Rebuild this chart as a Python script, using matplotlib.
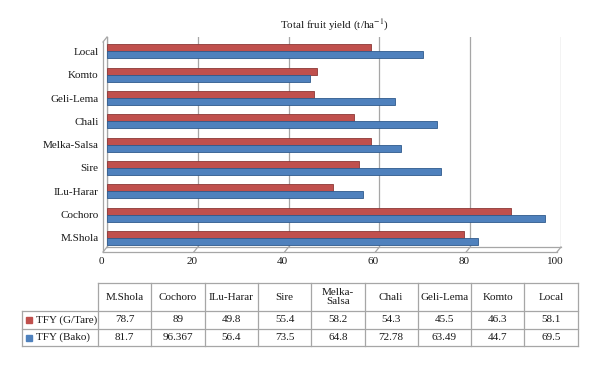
import matplotlib.pyplot as plt
import numpy as np
from matplotlib.lines import Line2D
from matplotlib.patches import Rectangle
from matplotlib.transforms import IdentityTransform, ScaledTranslation

plt.rcParams['font.family'] = ['Liberation Serif', 'DejaVu Serif']
plt.rcParams['mathtext.fontset'] = 'stix'

# datos de la tabla
cultivares = ['M.Shola', 'Cochoro', 'ILu-Harar', 'Sire', 'Melka-Salsa', 'Chali', 'Geli-Lema', 'Komto', 'Local']
cabeceras = ['M.Shola', 'Cochoro', 'ILu-Harar', 'Sire', 'Melka-\nSalsa', 'Chali', 'Geli-Lema', 'Komto', 'Local']
tfy_gtare = [78.7, 89, 49.8, 55.4, 58.2, 54.3, 45.5, 46.3, 58.1]
tfy_bako = [81.7, 96.367, 56.4, 73.5, 64.8, 72.78, 63.49, 44.7, 69.5]
series = ['TFY (G/Tare)', 'TFY (Bako)']
ticks_x = [0, 20, 40, 60, 80, 100]

rojo, rojo_osc = '#c0504d', '#8c3836'
azul, azul_osc = '#4f81bd', '#2f5a8c'
gris = '#a6a6a6'
texto = '#1a1a1a'

fig = plt.figure(figsize=(6, 3.68), dpi=100)
ax = fig.add_axes([107 / 600, 1 - 247 / 368, 454 / 600, 210 / 368])

y = np.arange(len(cultivares))
alto = 0.3
ax.barh(y + alto / 2, tfy_gtare, height=alto, color=rojo, edgecolor=rojo_osc, linewidth=0.6, zorder=3)
ax.barh(y - alto / 2, tfy_bako, height=alto, color=azul, edgecolor=azul_osc, linewidth=0.6, zorder=3)

ax.set_xlim(0, 100)
ax.set_ylim(-0.39, 8.62)
ax.set_xticks(ticks_x)
ax.set_yticks(y)
ax.set_yticklabels(cultivares, fontsize=8, color=texto)
ax.tick_params(axis='y', length=0, pad=6)
ax.tick_params(axis='x', length=0, pad=7, labelsize=8, labelcolor=texto)
for lab in ax.get_xticklabels():
    lab.set_transform(lab.get_transform() + ScaledTranslation(-0.06, 0, fig.dpi_scale_trans))
ax.grid(axis='x', color=gris, linewidth=0.9, zorder=0)
for s in ['top', 'right']:
    ax.spines[s].set_visible(False)
for s in ['left', 'bottom']:
    ax.spines[s].set_color(gris)
    ax.spines[s].set_linewidth(0.9)

ax.set_title('Total fruit yield (t/ha$^{-1}$)', fontsize=8, color=texto, pad=6)

# efecto 3D: borde frontal del suelo y pared
fig.canvas.draw()
dx, dy = -4, -5
def linea(p0, p1):
    fig.add_artist(Line2D([p0[0], p1[0]], [p0[1], p1[1]], transform=IdentityTransform(),
                          color=gris, linewidth=0.9))
ymin, ymax = ax.get_ylim()
for xv in ticks_x:
    p = ax.transData.transform((xv, ymin))
    linea(p, (p[0] + dx, p[1] + dy))
p0 = ax.transData.transform((0, ymin))
p1 = ax.transData.transform((100, ymin))
pt = ax.transData.transform((0, ymax))
linea((p0[0] + dx, p0[1] + dy), (p1[0] + dx, p1[1] + dy))
linea((pt[0] + dx, pt[1] + dy), (p0[0] + dx, p0[1] + dy))
linea(pt, (pt[0] + dx, pt[1] + dy))

# tabla de datos
axt = fig.add_axes([0, 0, 1, 1])
axt.set_xlim(0, 600)
axt.set_ylim(368, 0)
axt.axis('off')

x_izq, x_dat, ancho = 22, 98, 53.3
filas = [283, 311, 329, 346]
x_fin = x_dat + ancho * len(cabeceras)
kw = dict(color=gris, linewidth=0.9)
axt.plot([x_dat, x_fin], [filas[0], filas[0]], **kw)
for yf in filas[1:]:
    axt.plot([x_izq, x_fin], [yf, yf], **kw)
axt.plot([x_izq, x_izq], [filas[1], filas[3]], **kw)
for i in range(len(cabeceras) + 1):
    xc = x_dat + ancho * i
    axt.plot([xc, xc], [filas[0], filas[3]], **kw)

for i, cab in enumerate(cabeceras):
    xc = x_dat + ancho * (i + 0.5)
    axt.text(xc, (filas[0] + filas[1]) / 2, cab, ha='center', va='center', fontsize=8,
             color=texto, linespacing=0.95)
    axt.text(xc, (filas[1] + filas[2]) / 2, f'{tfy_gtare[i]:g}', ha='center', va='center',
             fontsize=8, color=texto)
    axt.text(xc, (filas[2] + filas[3]) / 2, f'{tfy_bako[i]:g}', ha='center', va='center',
             fontsize=8, color=texto)

for k, (nombre, col) in enumerate(zip(series, [rojo, azul])):
    yc = (filas[k + 1] + filas[k + 2]) / 2
    axt.add_patch(Rectangle((26, yc - 3), 6, 6, color=col))
    axt.text(36, yc, nombre, ha='left', va='center', fontsize=8, color=texto)

fig.savefig('out.png', dpi=100)
